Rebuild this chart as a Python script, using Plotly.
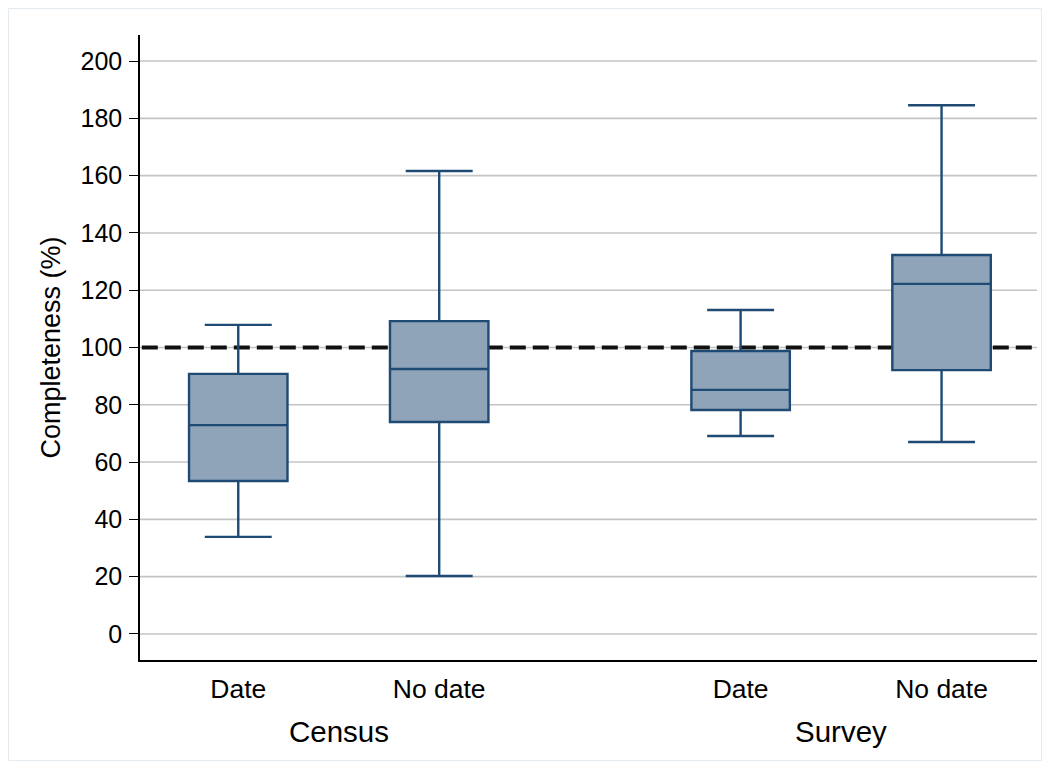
import plotly.graph_objects as go

categories = ["Date", "No date", "Date", "No date"]
groups = ["Census", "Survey"]
positions = [0, 1, 2.5, 3.5]
group_centers = [0.5, 3.0]
lower_whisker = [33.9, 20.2, 69.1, 67.0]
q1 = [53.4, 74.0, 78.2, 92.1]
median = [72.9, 92.5, 85.2, 122.2]
q3 = [90.8, 109.2, 98.8, 132.3]
upper_whisker = [107.9, 161.6, 113.1, 184.6]
reference_value = 100
yticks = [0, 20, 40, 60, 80, 100, 120, 140, 160, 180, 200]

FONT = "Liberation Sans, Arial, sans-serif"
W, H = 1034, 753
L, R, T, B = 132, 5, 27, 101
PW, PH = W - L - R, H - T - B

fig = go.Figure()
fig.add_trace(go.Box(
    x=positions, q1=q1, median=median, q3=q3,
    lowerfence=lower_whisker, upperfence=upper_whisker,
    fillcolor="#8FA4B8", line=dict(color="#1F4A73", width=2.4),
    width=0.49, whiskerwidth=0.68, boxpoints=False, showlegend=False,
    hoverinfo="skip",
))

# gridlines drawn as shapes so the reference line can sit above them but below the boxes
for yv in yticks:
    fig.add_shape(type="line", xref="paper", yref="y", x0=0, x1=1, y0=yv, y1=yv,
                  line=dict(color="#C4C4C4", width=1.6), layer="below")
fig.add_shape(type="line", xref="paper", yref="y", x0=0.002, x1=0.995, y0=reference_value, y1=reference_value,
              line=dict(color="#111111", width=4, dash="16px,7px"), layer="below")
fig.add_shape(type="rect", xref="paper", yref="paper",
              x0=(-L + 0.5) / PW, x1=(PW + R - 0.5) / PW,
              y0=(-B + 0.5) / PH, y1=1 + (T - 0.5) / PH,
              line=dict(color="#E3EBF0", width=1), layer="below")

for g, c in zip(groups, group_centers):
    fig.add_annotation(text=g, x=c, xref="x", y=-71 / PH, yref="paper", yanchor="middle",
                       showarrow=False, font=dict(family=FONT, size=29.5, color="black"))

fig.update_layout(
    width=W, height=H,
    margin=dict(l=L, r=R, t=T, b=B),
    plot_bgcolor="white", paper_bgcolor="white",
    font=dict(family=FONT, size=25, color="black"),
    xaxis=dict(range=[-0.489, 3.975], tickmode="array", tickvals=positions, ticktext=categories,
               showgrid=False, zeroline=False, showline=True, linecolor="black", linewidth=1.5,
               ticks="", tickfont=dict(size=26.5), ticklabelstandoff=4),
    yaxis=dict(range=[-9.1, 209.1], tickmode="array", tickvals=yticks,
               showgrid=False, zeroline=False,
               showline=True, linecolor="black", linewidth=1.5,
               ticks="outside", ticklen=9, tickcolor="black", tickwidth=1.3,
               ticklabelstandoff=2,
               title=dict(text="Completeness (%)", font=dict(size=27), standoff=12),
               tickfont=dict(size=25)),
)

fig.write_html("out.html")
